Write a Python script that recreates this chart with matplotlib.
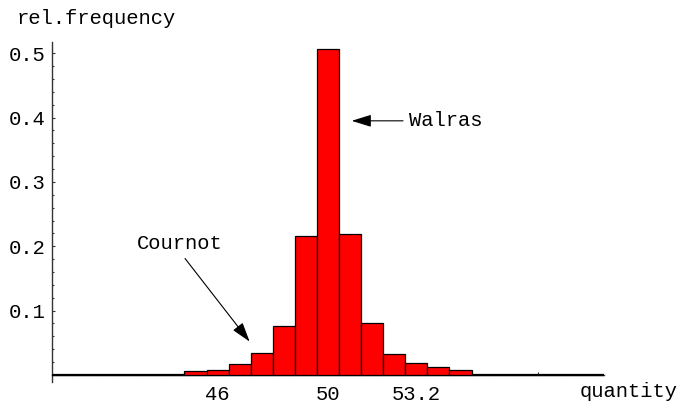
import matplotlib
matplotlib.use("Agg")
import matplotlib.pyplot as plt
from matplotlib.ticker import FixedLocator, NullFormatter

# ---- data ----
bin_centers = [40.4, 41.2, 42.0, 42.8, 43.6, 44.4,
               45.2, 46.0, 46.8, 47.6, 48.4, 49.2, 50.0, 50.8, 51.6, 52.4, 53.2, 54.0, 54.8,
               55.6, 56.4, 57.2, 58.0, 58.8, 59.6]
rel_freq = [0.0015, 0.0015, 0.0015, 0.0015, 0.0015, 0.0015,
            0.0058, 0.0078, 0.0166, 0.0337, 0.0766, 0.216, 0.506, 0.219, 0.081, 0.032, 0.019, 0.012, 0.0073,
            0.0015, 0.0015, 0.0015, 0.0015, 0.0015, 0.0015]
bin_width = 0.8
x_ticks = [46, 50, 53.2]
x_tick_labels = ["46", "50", "53.2"]
x_extra_ticks = [57.6]
y_ticks = [0.1, 0.2, 0.3, 0.4, 0.5]
y_tick_labels = ["0.1", "0.2", "0.3", "0.4", "0.5"]
y_minor = [0.02 * i for i in range(1, 26) if i % 5 != 0]

FONT = "Liberation Mono"
FS = 14.8

fig = plt.figure(figsize=(6.81, 4.05), dpi=100)
ax = fig.add_axes([52 / 681, (405 - 382) / 405, 552 / 681, (382 - 41.7) / 405])

ax.bar(bin_centers, rel_freq, width=bin_width, color="#ff0000",
       edgecolor="black", linewidth=0.9, zorder=3)

ax.set_xlim(40, 60)
ax.set_ylim(-0.011, 0.518)

for s in ["top", "right"]:
    ax.spines[s].set_visible(False)
ax.spines["bottom"].set_position(("data", 0))
ax.spines["left"].set_position(("data", 40))
for s in ["bottom", "left"]:
    ax.spines[s].set_linewidth(1.0)
    ax.spines[s].set_color("#333333")

ax.xaxis.set_major_locator(FixedLocator(x_ticks + x_extra_ticks))
ax.set_xticklabels(x_tick_labels + [""], fontfamily=FONT, fontsize=FS)
ax.yaxis.set_major_locator(FixedLocator(y_ticks))
ax.set_yticklabels(y_tick_labels, fontfamily=FONT, fontsize=FS)
ax.yaxis.set_minor_locator(FixedLocator(y_minor))
ax.yaxis.set_minor_formatter(NullFormatter())

ax.tick_params(axis="x", which="major", direction="in", length=2.2, width=0.8, pad=7, color="#333333")
ax.tick_params(axis="y", which="major", direction="in", length=2.4, width=0.8, pad=5, color="#333333")
ax.tick_params(axis="y", which="minor", direction="in", length=1.5, width=0.8, color="#333333")

# annotations
arrow_style = "-|>,head_length=0.8,head_width=0.25"
ax.annotate("", xy=(50.86, 0.395), xytext=(52.72, 0.395),
            arrowprops=dict(arrowstyle=arrow_style,
                            mutation_scale=15, color="black", lw=0.8,
                            shrinkA=0, shrinkB=0), zorder=5)
ax.text(52.95, 0.395, "Walras", fontfamily=FONT, fontsize=FS, va="center", ha="left")

ax.annotate("", xy=(47.16, 0.0518), xytext=(44.82, 0.181),
            arrowprops=dict(arrowstyle=arrow_style,
                            mutation_scale=15, color="black", lw=0.8,
                            shrinkA=0, shrinkB=0), zorder=5)
ax.text(44.63, 0.205, "Cournot", fontfamily=FONT, fontsize=FS, va="center", ha="center")

fig.text(16.7 / 681, (405 - 24) / 405, "rel.frequency", fontfamily=FONT, fontsize=FS,
         ha="left", va="baseline")
fig.text(678 / 681, (405 - 397.3) / 405, "quantity", fontfamily=FONT, fontsize=FS,
         ha="right", va="baseline")

fig.savefig("out.png", dpi=100)
